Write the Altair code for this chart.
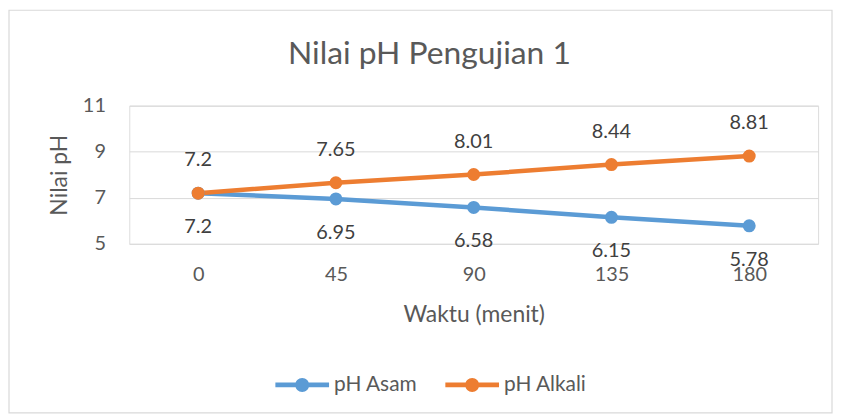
import altair as alt
import pandas as pd

waktu = [0, 45, 90, 135, 180]
ph_asam = [7.2, 6.95, 6.58, 6.15, 5.78]
ph_alkali = [7.2, 7.65, 8.01, 8.44, 8.81]
series = ["pH Asam", "pH Alkali"]
colors = ["#5B9BD5", "#ED7D31"]
y_ticks = [5, 7, 9, 11]
title_text = "Nilai pH Pengujian 1"

rows = []
for i, w in enumerate(waktu):
    rows.append({"Waktu": w, "Seri": series[0], "pH": ph_asam[i], "lbl": f"{ph_asam[i]:g}"})
    rows.append({"Waktu": w, "Seri": series[1], "pH": ph_alkali[i], "lbl": f"{ph_alkali[i]:g}"})
df = pd.DataFrame(rows)

FONT = "Lato"
GREY = "#595959"
W, H = 693, 139

xenc = alt.X("Waktu:O", sort=waktu,
             scale=alt.Scale(type="point", padding=0.5),
             axis=alt.Axis(title="Waktu (menit)", labelAngle=0, domain=False, ticks=False,
                           labelPadding=21, titlePadding=19, labelFontSize=20,
                           titleFontSize=23, labelColor=GREY, titleColor=GREY,
                           labelFont=FONT, titleFont=FONT, titleFontWeight="normal"))
yenc = alt.Y("pH:Q", scale=alt.Scale(domain=[5, 11], nice=False, zero=False),
             axis=alt.Axis(title="Nilai pH", values=y_ticks, domain=False, ticks=False,
                           labelPadding=24, titlePadding=11, labelFontSize=20,
                           titleFontSize=23, labelColor=GREY, titleColor=GREY,
                           gridColor="#d9d9d9", gridWidth=1,
                           labelFont=FONT, titleFont=FONT, titleFontWeight="normal"))
cscale = alt.Scale(domain=series, range=colors)
color = alt.Color("Seri:N", sort=series, scale=cscale,
                  legend=alt.Legend(title=None, orient="none", legendX=147, legendY=254,
                                    direction="horizontal", columns=2, columnPadding=28,
                                    symbolType="M-1,-0.09H1V0.09H-1Z M0.26,0 A0.26,0.26 0 1,1 -0.26,0 A0.26,0.26 0 1,1 0.26,0Z",
                                    symbolSize=2916, symbolStrokeWidth=0, labelFontSize=21,
                                    labelColor=GREY, labelFont=FONT, labelOffset=5))

base = alt.Chart(df)
lines = base.mark_line(strokeWidth=4.5).encode(x=xenc, y=yenc, color=color)
points = base.mark_circle(size=170, opacity=1).encode(
    x=xenc, y=yenc, color=alt.Color("Seri:N", sort=series, scale=cscale, legend=None))
lab_alk = base.transform_filter(alt.datum.Seri == "pH Alkali").mark_text(
    dy=-33, fontSize=20, font=FONT, color="#404040").encode(x=xenc, y=yenc, text="lbl:N")
lab_asam = base.transform_filter(alt.datum.Seri == "pH Asam").mark_text(
    dy=34, fontSize=20, font=FONT, color="#404040").encode(x=xenc, y=yenc, text="lbl:N")

deco = alt.Chart(pd.DataFrame({"t": [title_text]}))
border = deco.mark_rect(fill=None, stroke="#d9d9d9", strokeWidth=1.2).encode(
    x=alt.value(-121), x2=alt.value(W + 14), y=alt.value(-96), y2=alt.value(H + 170))
title = deco.mark_text(fontSize=32, font=FONT, color=GREY, baseline="alphabetic",
                       align="center").encode(
    x=alt.value(302), y=alt.value(-42), text="t:N")

chart = alt.layer(border, title, lines, points, lab_alk, lab_asam).properties(
    width=W, height=H,
    autosize=alt.AutoSizeParams(type="none"),
    padding={"left": 122, "top": 97, "right": 16, "bottom": 172},
).configure_view(stroke=None).configure(background="white")

chart.save("out.html", embed_options={"renderer": "svg", "actions": False})
